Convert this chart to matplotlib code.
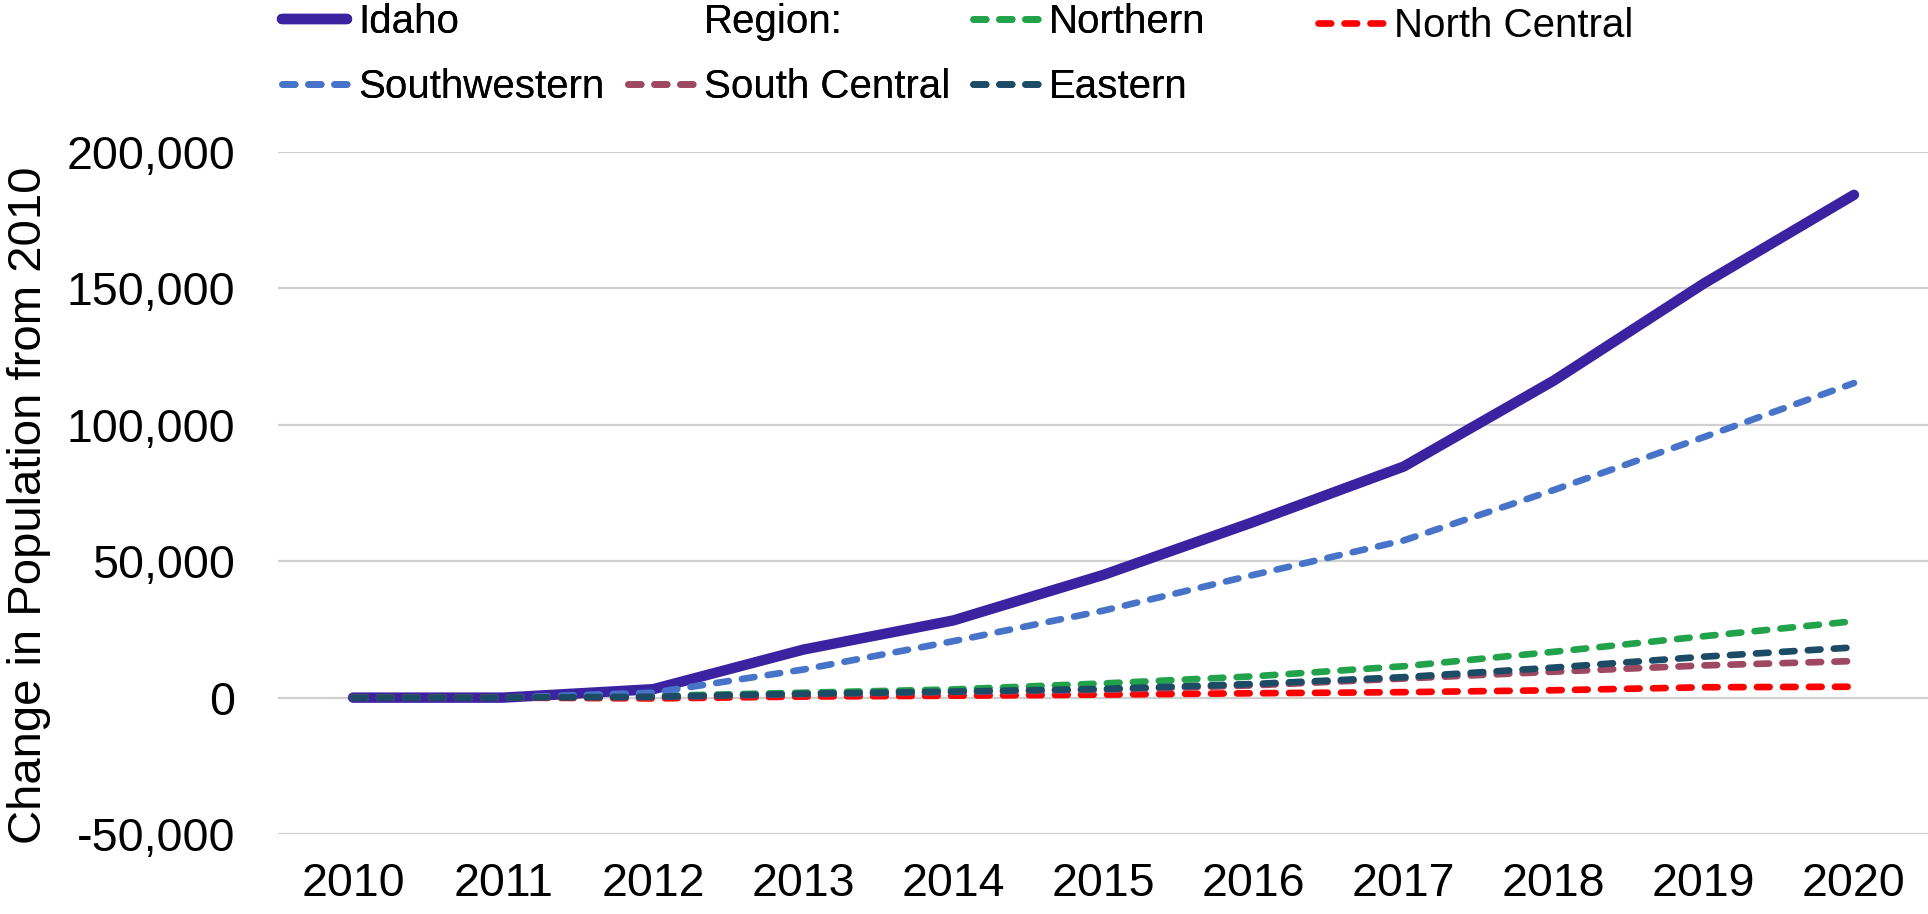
import numpy as np
import matplotlib
matplotlib.use("Agg")
import matplotlib.pyplot as plt
from matplotlib.lines import Line2D
from matplotlib.ticker import FuncFormatter

plt.rcParams["font.family"] = ["Liberation Sans", "DejaVu Sans"]

# ── data (change in population from 2010) ─────────────────
years = ["2010", "2011", "2012", "2013", "2014", "2015",
         "2016", "2017", "2018", "2019", "2020"]
idaho         = [0, 0, 3100, 17600, 28300, 45000, 64400, 84700, 116200, 151800, 184300]
northern      = [0, 0, 600, 1800, 3000, 5200, 7800, 11500, 16800, 22500, 28000]
north_central = [0, 0, -300, 400, 700, 1100, 1600, 2000, 2700, 3800, 4000]
southwestern  = [0, 0, 1800, 10300, 20700, 31900, 45000, 57600, 76100, 95500, 115300]
south_central = [0, 0, 200, 1200, 2000, 2800, 4500, 7000, 9500, 11800, 13400]
eastern       = [0, 0, 300, 1400, 2200, 3200, 5000, 7500, 11000, 15000, 18400]
y_ticks = [-50000, 0, 50000, 100000, 150000, 200000]

# ── styles ────────────────────────────────────────────────
DASH_LW = 4.8
DASHES = (1.9, 2.0)

fig = plt.figure(figsize=(19.28, 9.14), dpi=100)
ax = fig.add_axes([278 / 1928, 0.0875, 1651 / 1928, 0.7462])

x = np.arange(len(years))

l_idaho, = ax.plot(x, idaho, color="#3A22A0", lw=7.5, solid_capstyle="round",
                   solid_joinstyle="round", label="Idaho", zorder=3)

def dashed(vals, color, label):
    ln, = ax.plot(x, vals, color=color, lw=DASH_LW, label=label, zorder=4,
                  dash_capstyle="round", dashes=DASHES)
    return ln

l_north = dashed(northern, "#22A24A", "Northern")
l_ncent = dashed(north_central, "#FF0000", "North Central")
l_sw    = dashed(southwestern, "#4774C8", "Southwestern")
l_scent = dashed(south_central, "#9E4862", "South Central")
l_east  = dashed(eastern, "#1B4B65", "Eastern")

ax.set_xlim(-0.5, len(years) - 0.5)
ax.set_ylim(-50000, 200000)
ax.set_xticks(x)
ax.set_xticklabels(years)
ax.set_yticks(y_ticks)
ax.yaxis.set_major_formatter(FuncFormatter(lambda v, p: f"{int(v):,}"))
ax.tick_params(axis="both", length=0, labelsize=33.5)
ax.tick_params(axis="y", pad=31)
ax.tick_params(axis="x", pad=20)
for s in ax.spines.values():
    s.set_visible(False)
ax.grid(axis="y", color="#D0D0D0", lw=1.6)
ax.set_axisbelow(True)

fig.text(0.015, 0.4475, "Change in Population from 2010", rotation=90,
         ha="center", va="center", fontsize=34)

# ── legend: Excel-like fixed columns ──────────────────────
region = Line2D([], [], color="none", label="Region:")
leg_kw = dict(frameon=False, fontsize=29, handlelength=1.62,
              handletextpad=0.27, borderpad=0, borderaxespad=0,
              labelspacing=0.66, loc="center left")
columns = [
    ([l_idaho, l_sw], 282),
    ([region, l_scent], 628),
    ([l_north, l_east], 973),
]
for handles, px in columns:
    fig.add_artist(fig.legend(handles=handles, bbox_to_anchor=(px / 1928, 0.9405), **leg_kw))
fig.legend(handles=[l_ncent], bbox_to_anchor=(1318 / 1928, 0.9715), **leg_kw)

plt.savefig("out.png", dpi=100)
plt.close()
